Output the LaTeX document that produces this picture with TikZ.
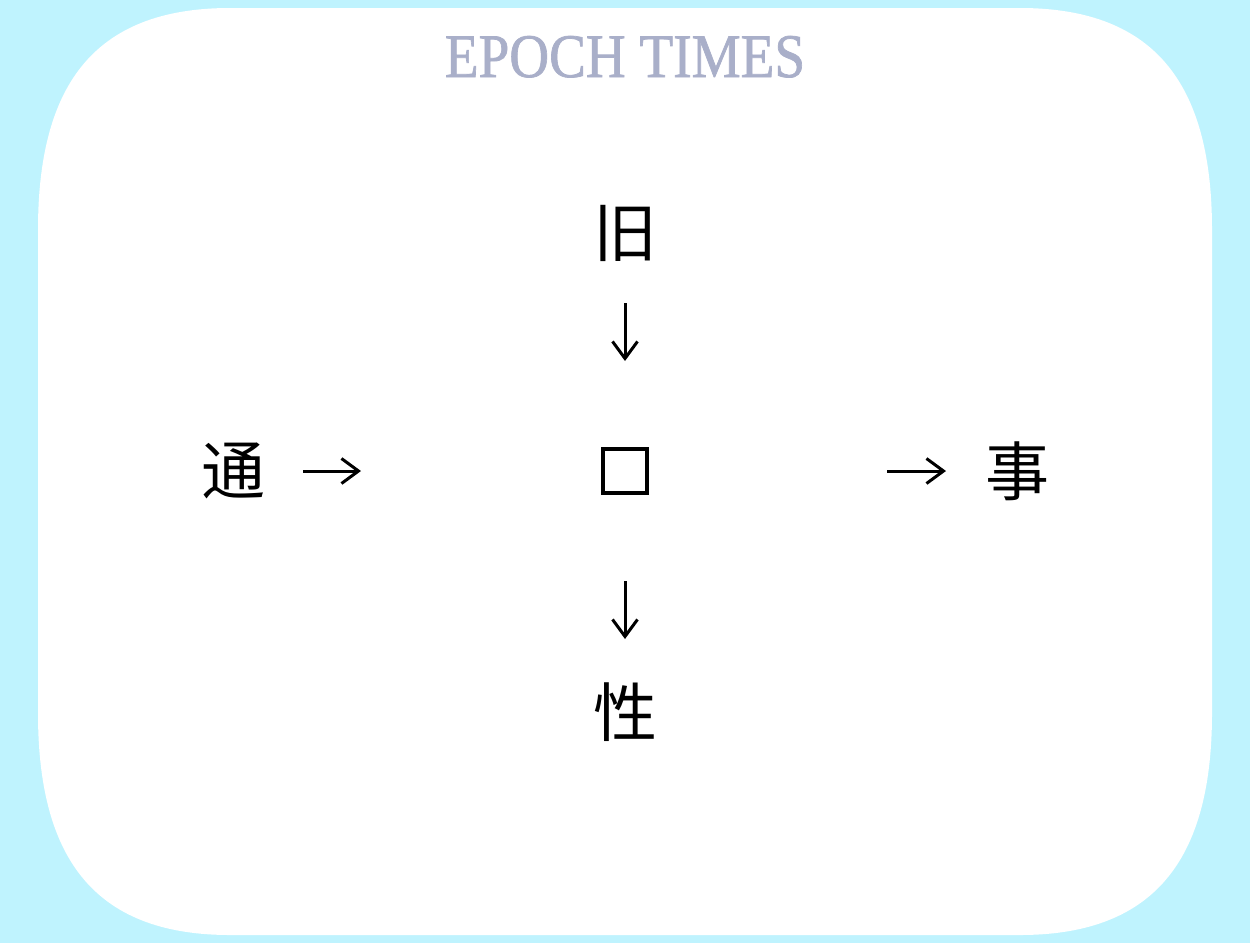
\documentclass[tikz,border=0pt]{standalone}
\usepackage{fontspec}
\setmainfont{Liberation Serif}
\newfontfamily\titlefont{Liberation Serif}[FakeBold=1.2]
\newfontfamily\cjk{Noto Sans CJK SC}
\usetikzlibrary{arrows.meta}
\definecolor{bgcyan}{RGB}{191,243,254}
\definecolor{titlecol}{RGB}{169,175,201}
\tikzset{
  han/.style={font=\cjk\fontsize{64}{64}\selectfont, inner sep=0pt},
  arr/.style={line width=3pt, -{Straight Barb[length=17pt,width=25pt]}},
  titletext/.style={font=\titlefont\fontsize{62}{62}\selectfont, text=titlecol, inner sep=0pt, anchor=base, xscale=0.89},
  sq/.style={draw=black, line width=3.6pt, minimum size=44pt, inner sep=0pt}
}
\begin{document}
\begin{tikzpicture}[x=1pt,y=-1pt]
\useasboundingbox (0,0) rectangle (1250,943);
\fill[bgcyan] (0,0) rectangle (1250,943);
% white squircle panel
\fill[white] (38,230) .. controls (38,90) and (90,8) .. (230,8)
  -- (1020,8) .. controls (1160,8) and (1212,90) .. (1212,230)
  -- (1212,713) .. controls (1212,853) and (1160,935) .. (1020,935)
  -- (230,935) .. controls (90,935) and (38,853) .. (38,713) -- cycle;
% title
\node[titletext] (title) at (625,77) {EPOCH TIMES};
% characters
\node[han] (jiu) at (625,233) {旧};
\node[han] (tong) at (233,471) {通};
\node[sq] (box) at (625,471) {};
\node[han] (shi) at (1017,471) {事};
\node[han] (xing) at (625,712) {性};
% arrows
\coordinate (d1s) at (625,303);
\coordinate (d1e) at (625,361);
\coordinate (d2s) at (625,581);
\coordinate (d2e) at (625,639);
\coordinate (l1s) at (303,471);
\coordinate (l1e) at (361,471);
\coordinate (r1s) at (887,471);
\coordinate (r1e) at (946,471);
\draw[arr] (d1s) -- (d1e);
\draw[arr] (d2s) -- (d2e);
\draw[arr] (l1s) -- (l1e);
\draw[arr] (r1s) -- (r1e);
\end{tikzpicture}
\end{document}
